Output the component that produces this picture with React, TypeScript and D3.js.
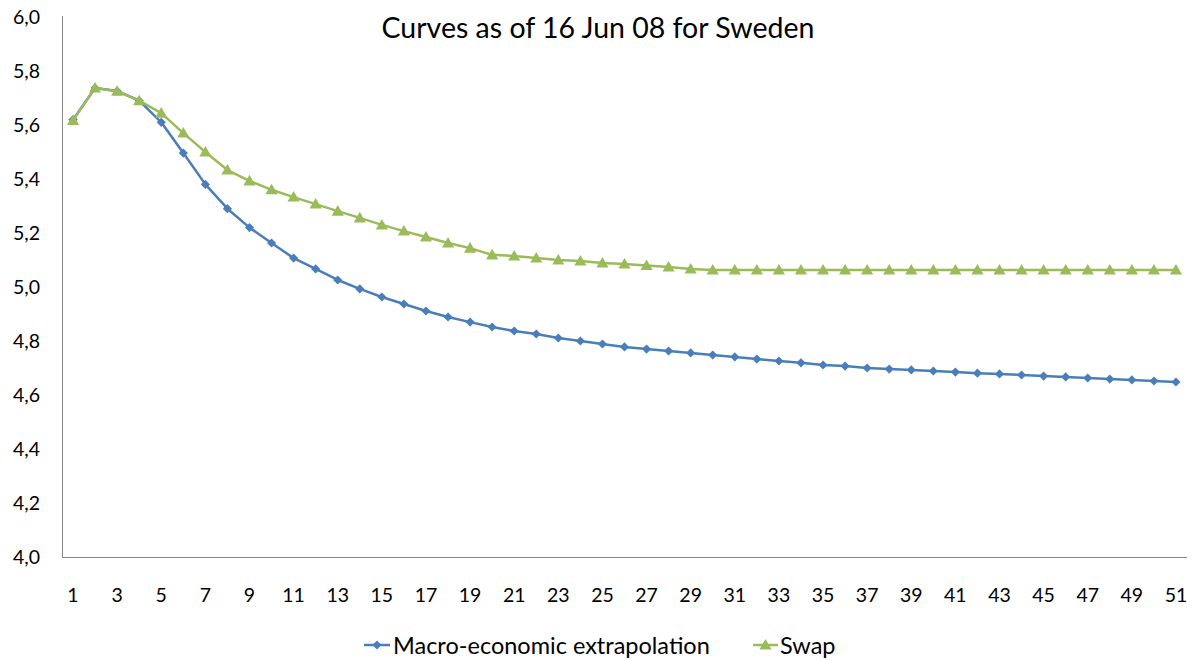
import React from "react";
import * as d3 from "d3";

// Maturity years 1..51
const years: number[] = d3.range(1, 52);

const macroValues: number[] = [
  5.62, 5.737, 5.726, 5.69, 5.61, 5.496, 5.38, 5.29, 5.22, 5.163,
  5.107, 5.067, 5.026, 4.993, 4.963, 4.937, 4.911, 4.889, 4.87, 4.852,
  4.837, 4.826, 4.811, 4.8, 4.789, 4.778, 4.77, 4.763, 4.756, 4.748,
  4.741, 4.733, 4.726, 4.719, 4.711, 4.707, 4.7, 4.696, 4.693, 4.689,
  4.685, 4.681, 4.678, 4.674, 4.67, 4.667, 4.663, 4.659, 4.656, 4.652,
  4.648,
];

const swapValues: number[] = [
  5.617, 5.737, 5.725, 5.69, 5.644, 5.57, 5.5, 5.433, 5.393, 5.36,
  5.333, 5.307, 5.281, 5.256, 5.23, 5.207, 5.185, 5.163, 5.144, 5.119,
  5.115, 5.107, 5.1, 5.096, 5.089, 5.085, 5.08, 5.074, 5.067, 5.063,
  5.063, 5.063, 5.063, 5.063, 5.063, 5.063, 5.063, 5.063, 5.063, 5.063,
  5.063, 5.063, 5.063, 5.063, 5.063, 5.063, 5.063, 5.063, 5.063, 5.063,
  5.063,
];

const yTicks: number[] = [4.0, 4.2, 4.4, 4.6, 4.8, 5.0, 5.2, 5.4, 5.6, 5.8, 6.0];
const xTickLabels: number[] = years.filter((y) => y % 2 === 1);

const seriesNames = ["Macro-economic extrapolation", "Swap"];
const title = "Curves as of 16 Jun 08 for Sweden";

const BLUE = "#4A7EBB";
const GREEN = "#9BBB59";
const FONT = "Lato, 'Open Sans', sans-serif";

export default function App() {
  const W = 1193;
  const H = 660;
  const left = 62;
  const right = 1187;
  const top = 17;
  const bottom = 557;

  const x = d3.scaleBand<number>().domain(years).range([left, right]);
  const cx = (v: number) => (x(v) as number) + x.bandwidth() / 2;
  const y = d3.scaleLinear().domain([4, 6]).range([bottom, top]);

  const line = d3
    .line<number>()
    .x((_, i) => cx(years[i]))
    .y((d) => y(d));

  // square turned 45° gives an even diamond
  const diamond = d3.symbol().type(d3.symbolSquare).size(42)() as string;
  const triangle = d3.symbol().type(d3.symbolTriangle).size(64)() as string;
  const fmt = (v: number) => v.toFixed(1).replace(".", ",");

  const legendY = 645;

  return (
    <svg width={W} height={H} style={{ display: "block", position: "absolute", left: 0, top: 0 }}>
      <rect x={0} y={0} width={W} height={H} fill="#fff" />
      <text x={598} y={37.5} textAnchor="middle" fontFamily={FONT} fontSize={28.5} fill="#000">
        {title}
      </text>

      {/* axes */}
      <line x1={left + 0.5} x2={left + 0.5} y1={top - 1} y2={bottom} stroke="#888" strokeWidth={1} />
      <line x1={left} x2={right} y1={bottom + 0.5} y2={bottom + 0.5} stroke="#888" strokeWidth={1} />

      {yTicks.map((t) => (
        <text key={t} x={40} y={y(t) + 7} textAnchor="end" fontFamily={FONT} fontSize={19.5} fill="#000">
          {fmt(t)}
        </text>
      ))}
      {xTickLabels.map((t) => (
        <text key={t} x={cx(t)} y={602} textAnchor="middle" fontFamily={FONT} fontSize={19.5} fill="#000">
          {t}
        </text>
      ))}

      {/* Macro-economic extrapolation */}
      <path d={line(macroValues) as string} fill="none" stroke={BLUE} strokeWidth={2.5} strokeLinejoin="round" />
      {macroValues.map((v, i) => (
        <path key={"m" + i} d={diamond} transform={`translate(${cx(years[i])},${y(v)}) rotate(45)`} fill={BLUE} />
      ))}

      {/* Swap */}
      <path d={line(swapValues) as string} fill="none" stroke={GREEN} strokeWidth={2.5} strokeLinejoin="round" />
      {swapValues.map((v, i) => (
        <path key={"s" + i} d={triangle} transform={`translate(${cx(years[i])},${y(v) + 1})`} fill={GREEN} />
      ))}

      {/* legend */}
      <g>
        <line x1={364} x2={390} y1={legendY} y2={legendY} stroke={BLUE} strokeWidth={2.5} />
        <path d={diamond} transform={`translate(377,${legendY}) rotate(45)`} fill={BLUE} />
        <text x={393} y={legendY + 8.5} fontFamily={FONT} fontSize={23.5} fill="#000">
          {seriesNames[0]}
        </text>
        <line x1={753} x2={778} y1={legendY} y2={legendY} stroke={GREEN} strokeWidth={2.5} />
        <path d={triangle} transform={`translate(765.5,${legendY + 1})`} fill={GREEN} />
        <text x={780} y={legendY + 8.5} fontFamily={FONT} fontSize={23.5} fill="#000">
          {seriesNames[1]}
        </text>
      </g>
    </svg>
  );
}
